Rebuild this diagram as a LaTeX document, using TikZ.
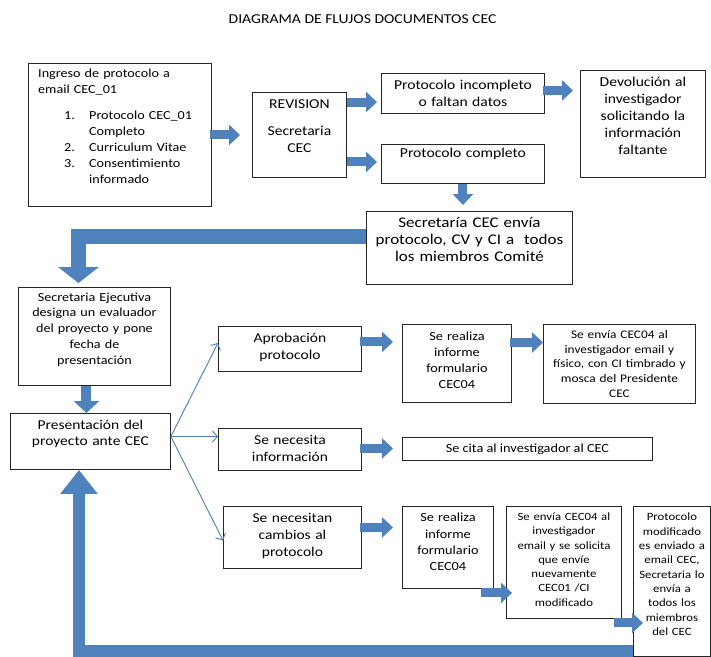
\documentclass[tikz,border=0pt]{standalone}
\usepackage{fontspec}
\setmainfont{Carlito}[FakeStretch=1.15]
\usetikzlibrary{arrows.meta,calc}

\definecolor{azul}{HTML}{4F81BD}
\definecolor{azulrama}{HTML}{4A7EBB}

\newcommand\fuenteA{\fontsize{13.6}{17}\selectfont}
\newcommand\fuenteB{\fontsize{14.8}{17}\selectfont}
\newcommand\fuenteC{\fontsize{12.3}{16}\selectfont}
\newcommand\fuenteD{\fontsize{12.3}{15.7}\selectfont}
\newcommand\fuenteE{\fontsize{13.5}{15.7}\selectfont}
\newcommand\fuenteF{\fontsize{13.5}{17}\selectfont}
\newcommand\fuenteG{\fontsize{12.4}{16.2}\selectfont}
\newcommand\fuenteH{\fontsize{11.6}{14.6}\selectfont}
\newcommand\fuenteI{\fontsize{11.1}{14.3}\selectfont}

\tikzset{
  caja/.style={draw=black!85, line width=0.9pt, inner sep=0pt, anchor=north west},
  texto/.style={inner sep=0pt, anchor=north, align=center},
  flecha/.style={draw=azul, line width=9pt, -{Triangle[width=20pt,length=11pt]}},
  rama/.style={draw=azulrama, line width=0.9pt, -{Straight Barb[length=5pt,width=11pt]}},
}

\begin{document}
\begin{tikzpicture}[x=1pt,y=-1pt]
       \useasboundingbox (0,0) rectangle (711,656);

       \node[font=\fuenteA, anchor=base] (titulo) at (362.5,23.3) {DIAGRAMA DE FLUJOS DOCUMENTOS CEC};

       % ingreso y revision
       \node[caja, minimum width=183pt, minimum height=143pt] (ingreso) at (28,63) {};
       \node[texto, anchor=north west, align=left, font=\fuenteC, text width=175pt] (ingreso-t)
         at ([xshift=10pt,yshift=-5.5pt]ingreso.north west)
         {Ingreso de protocolo a\\ email CEC\_01\\[10.5pt]
          \hspace*{26pt}\makebox[25pt][l]{1.}Protocolo CEC\_01\\
          \hspace*{51pt}Completo\\
          \hspace*{26pt}\makebox[25pt][l]{2.}Curriculum Vitae\\
          \hspace*{26pt}\makebox[25pt][l]{3.}Consentimiento\\
          \hspace*{51pt}informado};

       \node[caja, minimum width=94pt, minimum height=85pt] (revision) at (252,92) {};
       \node[texto, font=\fuenteA, text width=92pt] (revision-t) at ([yshift=-7.5pt]revision.north)
         {REVISION\\[10pt] Secretaria\\ CEC};

       \node[caja, minimum width=163pt, minimum height=40pt] (incompleto) at (381,73) {};
       \node[texto, font=\fuenteA, text width=161pt] (incompleto-t) at ([yshift=-7pt]incompleto.north)
         {Protocolo incompleto\\ o faltan datos};

       \node[caja, minimum width=125pt, minimum height=107pt] (devolucion) at (580,70) {};
       \node[texto, font=\fuenteA, text width=123pt] (devolucion-t) at ([yshift=-7pt]devolucion.north)
         {Devolución al\\ investigador\\ solicitando la\\ información\\ faltante};

       \node[caja, minimum width=163pt, minimum height=39pt] (completo) at (381,144) {};
       \node[texto, font=\fuenteA, text width=161pt] (completo-t) at ([yshift=-4pt]completo.north)
         {Protocolo completo};

       \node[caja, minimum width=206pt, minimum height=73pt] (envia) at (366,211) {};
       \node[texto, font=\fuenteB, text width=204pt] (envia-t) at ([yshift=-6pt]envia.north)
         {Secretaría CEC envía\\ protocolo, CV y CI a\ \ todos\\ los miembros Comité};

       % columna izquierda
       \node[caja, minimum width=152pt, minimum height=98pt] (ejecutiva) at (18,287) {};
       \node[texto, font=\fuenteD, text width=150pt] (ejecutiva-t) at ([yshift=-5.5pt]ejecutiva.north)
         {Secretaria Ejecutiva\\ designa un evaluador\\ del proyecto y pone\\ fecha de\\ presentación};

       \node[caja, minimum width=160pt, minimum height=56pt] (presentacion) at (10,413) {};
       \node[texto, font=\fuenteE, text width=158pt] (presentacion-t) at ([yshift=-7pt]presentacion.north)
         {Presentación del\\ proyecto ante CEC};

       % resultados
       \node[caja, minimum width=143pt, minimum height=45pt] (aprobacion) at (218,326) {};
       \node[texto, font=\fuenteF, text width=141pt] (aprobacion-t) at ([yshift=-7pt]aprobacion.north)
         {Aprobación\\ protocolo};

       \node[caja, minimum width=143pt, minimum height=42pt] (necesita) at (218,428) {};
       \node[texto, font=\fuenteF, text width=141pt] (necesita-t) at ([yshift=-7pt]necesita.north)
         {Se necesita\\ información};

       \node[caja, minimum width=138pt, minimum height=62pt] (cambios) at (223,506) {};
       \node[texto, font=\fuenteF, text width=136pt] (cambios-t) at ([yshift=-7pt]cambios.north)
         {Se necesitan\\ cambios al\\ protocolo};

       \node[caja, minimum width=109pt, minimum height=78pt] (realiza1) at (402,324) {};
       \node[texto, font=\fuenteG, text width=107pt] (realiza1-t) at ([yshift=-7.5pt]realiza1.north)
         {Se realiza\\ informe\\ formulario\\ CEC04};

       \node[caja, minimum width=152pt, minimum height=79pt] (envia1) at (543,324) {};
       \node[texto, font=\fuenteH, text width=150pt] (envia1-t) at ([yshift=-6.5pt]envia1.north)
         {Se envía CEC04 al\\ investigador email y\\ físico, con CI timbrado y\\ mosca del Presidente\\ CEC};

       \node[caja, minimum width=250pt, minimum height=23pt, font=\fuenteG] (cita) at (402,437)
         {Se cita al investigador al CEC};

       \node[caja, minimum width=91pt, minimum height=82pt] (realiza2) at (402,506) {};
       \node[texto, font=\fuenteG, text width=89pt] (realiza2-t) at ([yshift=-7pt]realiza2.north)
         {Se realiza\\ informe\\ formulario\\ CEC04};

       \node[caja, minimum width=115pt, minimum height=112pt] (envia2) at (506,506) {};
       \node[texto, font=\fuenteI, text width=113pt] (envia2-t) at ([yshift=-6.5pt]envia2.north)
         {Se envía CEC04 al\\ investigador\\ email y se solicita\\ que envíe\\ nuevamente\\ CEC01 /CI\\ modificado};

       \node[caja, minimum width=77pt, minimum height=150pt] (modificado) at (633,506) {};
       \node[texto, font=\fuenteI, text width=76pt] (modificado-t) at ([yshift=-7pt]modificado.north)
         {Protocolo\\ modificado\\ es enviado a\\ email CEC,\\ Secretaria lo\\ envía a\\ todos los\\ miembros\\ del CEC};

       % flechas de bloque
       \draw[flecha, shorten <=-2pt, shorten >=12pt] (ingreso.east) -- (revision.west);
       \draw[flecha, shorten >=4pt] ([yshift=-10pt]revision.north east) -- ([yshift=-10pt]revision.north east -| incompleto.west);
       \draw[flecha, shorten >=4pt] ([yshift=2pt]completo.west -| revision.east) -- ([yshift=2pt]completo.west);
       \draw[flecha, shorten <=-2pt, shorten >=7pt] ([yshift=3pt]incompleto.east) -- ([yshift=3pt]incompleto.east -| devolucion.west);
       \draw[flecha, shorten >=6pt] (completo.south) -- (completo.south |- envia.north);
       \draw[flecha, line width=15pt, -{Triangle[width=40pt,length=16pt]}, shorten >=4pt]
         ([yshift=11.5pt]envia.west) -| ([xshift=-16pt]ejecutiva.north);
       \draw[flecha, line width=10pt, -{Triangle[width=25pt,length=12pt]}]
         ([xshift=-8pt]ejecutiva.south) -- ([xshift=-8pt]ejecutiva.south |- presentacion.north);

       \draw[flecha, shorten <=-2pt, shorten >=9pt] ([yshift=7pt]aprobacion.east) -- ([yshift=7pt]aprobacion.east -| realiza1.west);
       \draw[flecha, shorten <=-2pt] ([yshift=21pt]realiza1.east) -- ([yshift=21pt]realiza1.east -| envia1.west);
       \draw[flecha, shorten <=-2pt, shorten >=9pt] ([yshift=1pt]necesita.east) -- ([yshift=1pt]necesita.east -| cita.west);
       \draw[flecha, shorten <=-2pt, shorten >=9pt] ([yshift=10pt]cambios.east) -- ([yshift=10pt]cambios.east -| realiza2.west);
       \draw[flecha, shorten >=-6pt] ([xshift=-13pt,yshift=-4pt]realiza2.south east) -- ([yshift=-4pt]realiza2.south east -| envia2.west);
       \draw[flecha, shorten >=-10pt] ([xshift=-8pt,yshift=-4pt]envia2.south east) -- ([yshift=-4pt]envia2.south east -| modificado.west);

       % retorno
       \draw[flecha, line width=12pt, -{Triangle[width=36pt,length=24pt]}]
         ([yshift=6pt]modificado.south west) -| ([xshift=-11.5pt]presentacion.south);

       % ramas de la presentacion
       \coordinate (bifurca) at ([yshift=5pt]presentacion.east);
       \draw[rama] (bifurca) -- ([yshift=6pt]aprobacion.west);
       \draw[rama] (bifurca) -- (bifurca -| necesita.west);
       \draw[rama] (bifurca) -- ([yshift=-3pt]cambios.west);

\end{tikzpicture}
\end{document}
